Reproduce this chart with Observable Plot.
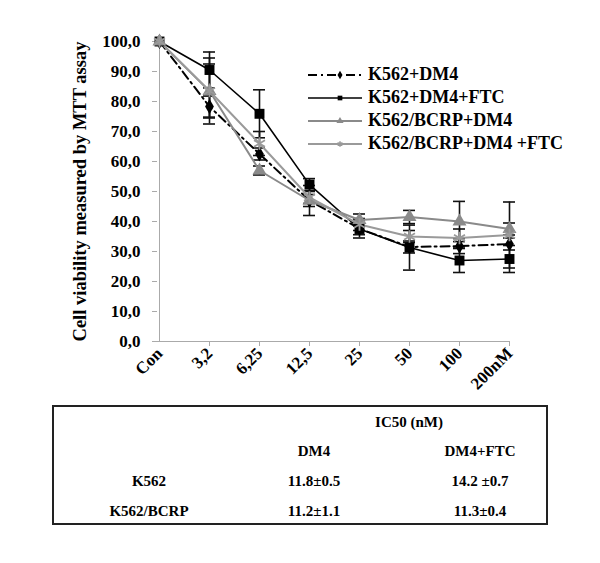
<!DOCTYPE html>
<html><head><meta charset="utf-8">
<script src="https://cdn.jsdelivr.net/npm/d3@7"></script>
<script src="https://cdn.jsdelivr.net/npm/@observablehq/plot@0.6"></script>
<style>
body{margin:0;background:#fff;font-family:"Liberation Serif","Times New Roman",serif;font-weight:bold;color:#000;}
#wrap{position:relative;width:600px;height:563px;overflow:hidden;}
#chart{position:absolute;left:0;top:0;}
#legend{position:absolute;left:306px;top:63px;}
.row{display:flex;align-items:center;height:23px;font-size:18px;white-space:nowrap;}
.row svg{margin-right:4px;}
#table{position:absolute;left:52px;top:405px;width:496px;height:120px;border:2px solid #222;box-sizing:border-box;}
.cell{position:absolute;transform:translate(-50%,-50%);font-size:15px;white-space:nowrap;}
</style></head>
<body>
<div id="wrap"><div id="chart"></div><div id="legend"></div><div id="table"></div></div>
<script>
// ---- data ----
const categories = ["Con","3,2","6,25","12,5","25","50","100","200nM"];
const seriesNames = ["K562+DM4","K562+DM4+FTC","K562/BCRP+DM4","K562/BCRP+DM4 +FTC"];
const k562DM4      = [100, 78.3, 62.5, 47.0, 37.6, 31.5, 31.8, 32.5];
const k562DM4err   = [0, 3.5, 2, 2, 2, 2, 2.5, 2];
const k562DM4FTC   = [100, 90.5, 75.9, 52.3, 37.5, 31.3, 27.0, 27.5];
const k562DM4FTCerr= [0, 6, 8, 2, 3, 7.5, 4, 4.5];
const bcrpDM4      = [100, 83.5, 57.0, 47.0, 40.5, 41.5, 40.0, 37.5];
const bcrpDM4err   = [0, 9, 1.5, 5, 2, 2.2, 6.7, 2];
const bcrpDM4FTC   = [100, 83.5, 66.0, 48.0, 39.0, 35.0, 34.5, 35.5];
const bcrpDM4FTCerr= [0, 11, 4, 2, 2, 2, 3, 11];
const yTicks = [0,10,20,30,40,50,60,70,80,90,100];
const yTitle = "Cell viability measured by MTT assay";
const ic50Title = "IC50 (nM)";
const ic50Cols = ["DM4","DM4+FTC"];
const ic50Rows = ["K562","K562/BCRP"];
const ic50DM4 = ["11.8±0.5","11.2±1.1"];
const ic50DM4FTC = ["14.2 ±0.7","11.3±0.4"];

// ---- styles ----
const styles = [
  {stroke:"#000", width:2, dash:"9,4,2,4", symbol:"diamond", fill:"#000", r:4.6},
  {stroke:"#000", width:1.6, dash:null, symbol:"square", fill:"#000", r:5.6},
  {stroke:"#8a8a8a", width:2, dash:null, symbol:"triangle", fill:"#8a8a8a", r:5.2},
  {stroke:"#9a9a9a", width:2, dash:null, symbol:"asterisk", fill:"none", r:6}
];
const values = [k562DM4, k562DM4FTC, bcrpDM4, bcrpDM4FTC];
const errs = [k562DM4err, k562DM4FTCerr, bcrpDM4err, bcrpDM4FTCerr];

const data = [];
seriesNames.forEach((s, si) => categories.forEach((c, i) =>
  data.push({series: s, si, cat: c, v: values[si][i], lo: values[si][i] - errs[si][i], hi: values[si][i] + errs[si][i], e: errs[si][i]})));
const withErr = data.filter(d => d.e > 0);

const marks = [
  Plot.ruleY([0], {stroke: "#aaa"}),
  Plot.ruleX([categories[0]], {y1: 0, y2: 100, stroke: "#aaa"}),
  Plot.axisY({ticks: yTicks, tickSize: 5, tickPadding: 12, stroke: "#aaa", fill: "#000", fontSize: 17,
    tickFormat: d => d.toFixed(1).replace(".", ",")}),
  Plot.axisX({ticks: categories.slice(1), tickSize: 5, stroke: "#aaa", fill: "none"}),
  Plot.text(categories, {x: d => d, frameAnchor: "bottom", rotate: -45, textAnchor: "end", dx: 4, dy: 13, fontSize: 17, fill: "#000"}),
  Plot.text([yTitle], {frameAnchor: "left", textAnchor: "middle", dx: -77, rotate: -90, fontSize: 18.5, fill: "#000"}),
  // error bars
  Plot.ruleX(withErr, {x: "cat", y1: "lo", y2: "hi", stroke: "#111", strokeWidth: 1.6}),
  Plot.ruleY(withErr, {x1: "cat", x2: "cat", y: "lo", stroke: "#111", strokeWidth: 1.6, insetLeft: -6, insetRight: -6}),
  Plot.ruleY(withErr, {x1: "cat", x2: "cat", y: "hi", stroke: "#111", strokeWidth: 1.6, insetLeft: -6, insetRight: -6})
];
seriesNames.forEach((s, si) => {
  const st = styles[si];
  const sd = data.filter(d => d.si === si);
  marks.push(Plot.line(sd, {x: "cat", y: "v", stroke: st.stroke, strokeWidth: st.width, strokeDasharray: st.dash || undefined}));
});
seriesNames.forEach((s, si) => {
  const st = styles[si];
  const sd = data.filter(d => d.si === si);
  if (st.symbol === "asterisk")
    marks.push(Plot.dot(sd, {x: "cat", y: "v", symbol: "asterisk", r: st.r, stroke: st.stroke, strokeWidth: 1.8}));
  else
    marks.push(Plot.dot(sd, {x: "cat", y: "v", symbol: st.symbol, r: st.r, fill: st.fill, stroke: "none"}));
});

const plot = Plot.plot({
  width: 600, height: 400,
  marginLeft: 157, marginRight: 90, marginTop: 41, marginBottom: 59,
  x: {type: "point", domain: categories, padding: 0, axis: null},
  y: {domain: [0, 100], axis: null},
  style: {fontFamily: "'Liberation Serif','Times New Roman',serif", fontWeight: "bold", background: "white", overflow: "visible"},
  marks
});
document.getElementById("chart").appendChild(plot);

// ---- legend ----
const symMap = {diamond: d3.symbolDiamond, square: d3.symbolSquare, triangle: d3.symbolTriangle, asterisk: d3.symbolAsterisk};
const legend = d3.select("#legend");
seriesNames.forEach((s, si) => {
  const st = styles[si];
  const row = legend.append("div").attr("class", "row");
  const svg = row.append("svg").attr("width", 58).attr("height", 20);
  svg.append("line").attr("x1", 2).attr("x2", 56).attr("y1", 10).attr("y2", 10)
    .attr("stroke", st.stroke).attr("stroke-width", st.width).attr("stroke-dasharray", st.dash);
  const p = d3.symbol(symMap[st.symbol], 22)();
  svg.append("path").attr("d", p).attr("transform", "translate(34,10)")
    .attr("fill", st.symbol === "asterisk" ? "none" : st.fill)
    .attr("stroke", st.symbol === "asterisk" ? st.stroke : "none").attr("stroke-width", 1.5);
  row.append("span").text(s);
});

// ---- IC50 table ----
const tbl = d3.select("#table");
const colX = [95, 260, 426];
const rowY = [15, 44, 74, 104];
tbl.append("div").attr("class", "cell").style("left", "355px").style("top", rowY[0] + "px").text(ic50Title);
ic50Cols.forEach((c, i) => tbl.append("div").attr("class", "cell").style("left", colX[i + 1] + "px").style("top", rowY[1] + "px").text(c));
ic50Rows.forEach((r, i) => {
  tbl.append("div").attr("class", "cell").style("left", colX[0] + "px").style("top", rowY[2 + i] + "px").text(r);
  tbl.append("div").attr("class", "cell").style("left", colX[1] + "px").style("top", rowY[2 + i] + "px").text(ic50DM4[i]);
  tbl.append("div").attr("class", "cell").style("left", colX[2] + "px").style("top", rowY[2 + i] + "px").text(ic50DM4FTC[i]);
});
</script>
</body></html>
